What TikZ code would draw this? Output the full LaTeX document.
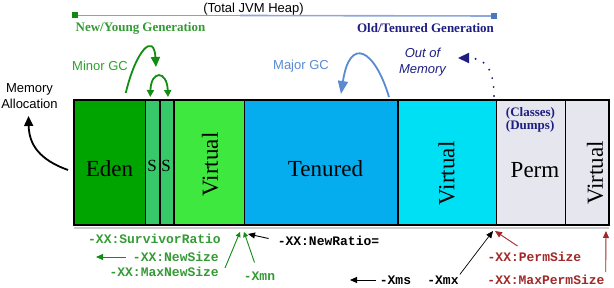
\documentclass[tikz,border=0pt]{standalone}
\usepackage{fontspec}
\setmainfont{Liberation Serif}
\setsansfont{Liberation Sans}
\setmonofont{Liberation Mono}
\usetikzlibrary{arrows.meta,positioning}
\definecolor{EdenFill}{HTML}{00A400}
\definecolor{SurvFill}{HTML}{36C869}
\definecolor{YoungVirt}{HTML}{3FE83F}
\definecolor{TenFill}{HTML}{05ADEE}
\definecolor{OldVirt}{HTML}{00E0F5}
\definecolor{PermFill}{HTML}{E6E6EE}
\definecolor{GcGreen}{HTML}{2FA02F}
\definecolor{OptGreen}{HTML}{349A34}
\definecolor{ArrGreen}{HTML}{128C12}
\definecolor{YoungDark}{HTML}{108A10}
\definecolor{YoungLine}{HTML}{70BE70}
\definecolor{OldLine}{HTML}{8CA8D8}
\definecolor{OldBlue}{HTML}{4A78C0}
\definecolor{MajorBlue}{HTML}{5A8AD0}
\definecolor{Navy}{HTML}{1E1E82}
\definecolor{OptRed}{HTML}{A02828}

\begin{document}
\begin{tikzpicture}[x=1pt,y=-1pt,
          node distance=0pt,
          seg/.style={draw=black,line width=1.6pt,minimum height=125pt,
            inner sep=0pt,outer sep=0pt},
          big/.style={font=\fontsize{23}{26}\selectfont,inner sep=0pt},
          note/.style={font=\sffamily\fontsize{13}{16}\selectfont,inner sep=0pt,align=center},
          gen/.style={font=\bfseries\fontsize{13}{15}\selectfont,inner sep=0pt},
          opt/.style={font=\ttfamily\bfseries\fontsize{13}{15}\selectfont,inner sep=1pt},
          endsq/.style={minimum size=6pt,inner sep=0pt,outer sep=0pt},
          gcflow/.style={-{Triangle[length=10pt,width=9pt]},line width=1.8pt},
          thin/.style={-{Triangle[length=7pt,width=6pt]},line width=0.9pt}]
        \useasboundingbox (0,0) rectangle (614,288);
        % heap span
        \node[endsq,fill=YoungDark] (youngend) at (74.5,15.5) {};
        \node[endsq,fill=OldBlue] (oldend) at (494,16) {};
        \coordinate (heapmid) at (240,15.5);
        \draw[YoungLine,line width=1.6pt] (youngend) -- (heapmid);
        \draw[OldLine,line width=1.6pt] (heapmid) -- (oldend);
        \node[note] (heap) at (253.5,9.5) {(Total JVM Heap)};
        \node[gen,text=OptGreen] (young) at (140.5,28) {New/Young Generation};
        \node[gen,text=Navy] (old) at (425.5,28) {Old/Tenured Generation};
        % heap segments
        \node[seg,fill=EdenFill,minimum width=71.5pt,anchor=north west] (eden) at (74,100) {};
        \node[seg,fill=SurvFill,minimum width=14.5pt,right=of eden] (sone) {};
        \node[seg,fill=SurvFill,minimum width=14pt,right=of sone] (stwo) {};
        \node[seg,fill=YoungVirt,minimum width=70.5pt,right=of stwo] (vyoung) {};
        \node[seg,fill=TenFill,minimum width=153.5pt,right=of vyoung] (tenured) {};
        \node[seg,fill=OldVirt,minimum width=98.5pt,right=of tenured] (vold) {};
        \node[seg,fill=PermFill,minimum width=69pt,right=of vold] (perm) {};
        \node[seg,fill=PermFill,minimum width=43.5pt,right=of perm] (vperm) {};
        \draw[black!20,line width=1.5pt] ([yshift=-3pt]eden.south west) -- ([yshift=-3pt]vperm.south east);
        \draw[line width=2.4pt] (eden.north west) rectangle (vperm.south east);
        \node[big] (edentxt) at (109.5,169) {Eden};
        \node[font=\fontsize{17}{20}\selectfont,inner sep=0pt] (sonetxt) at (152,166) {S};
        \node[font=\fontsize{17}{20}\selectfont,inner sep=0pt] (stwotxt) at (166,166) {S};
        \node[big,rotate=90] (vyoungtxt) at (210,164.5) {Virtual};
        \node[big] (tenuredtxt) at (325.5,169) {Tenured};
        \node[big,rotate=90] (voldtxt) at (446.5,173.5) {Virtual};
        \node[big] (permtxt) at (535,170) {Perm};
        \node[big,rotate=90] (vpermtxt) at (595,173) {Virtual};
        \node[gen,text=Navy,align=left,font=\bfseries\fontsize{13}{13}\selectfont] (permnote) at (530.5,119.5) {(Classes)\\(Dumps)};
        % collections
        \node[note] (alloc) at (29.5,96) {Memory\\Allocation};
        \node[note,text=GcGreen] (minor) at (100,66) {Minor GC};
        \node[note,text=MajorBlue] (major) at (301,66) {Major GC};
        \node[note,text=Navy,font=\sffamily\itshape\fontsize{13}{16}\selectfont] (oom) at (422.5,62) {Out of\\Memory};
        \coordinate (alloctip) at (28.5,116);
        \coordinate (minortip) at (156,67);
        \coordinate (majortip) at (341,94);
        \coordinate (oomtip) at (458,58);
        \draw[gcflow] ([xshift=-6pt,yshift=-70pt]eden.north west) .. controls (40,160) and (29,145) .. (alloctip);
        \draw[gcflow,ArrGreen] ([xshift=16pt,yshift=7pt]eden.north) .. controls (136,50) and (154,32) .. (minortip);
        \draw[ArrGreen,line width=1.8pt,{Triangle[length=7pt,width=7pt]}-{Triangle[length=7pt,width=7pt]}]
          ([xshift=-2.5pt,yshift=3pt]sone.north) .. controls (151,70) and (167,70) .. ([xshift=1pt,yshift=3pt]stwo.north);
        \draw[gcflow,MajorBlue,-{Triangle[length=13pt,width=10pt]}] ([xshift=-9pt,yshift=3pt]vold.north west) .. controls (375,50) and (350,35) .. (majortip);
        \draw[Navy,line width=2.2pt,dash pattern=on 0pt off 9pt,line cap=round,-{Triangle[length=11pt,width=10pt]}]
          ([xshift=-2.5pt,yshift=4pt]vold.north east) .. controls (494,70) and (486,58) .. (oomtip);
        % tuning options
        \node[opt,text=OptGreen] (survratio) at (154.5,239) {-XX:SurvivorRatio};
        \node[opt,text=OptGreen,anchor=east] (newsize) at (220,257) {-XX:NewSize};
        \node[opt,text=OptGreen,anchor=east] (maxnewsize) at (220,272) {-XX:MaxNewSize};
        \node[opt,text=OptGreen] (xmn) at (259.5,276) {-Xmn};
        \node[opt] (newratio) at (328.5,240.5) {-XX:NewRatio=};
        \node[opt] (xms) at (395.5,280) {-Xms};
        \node[opt] (xmx) at (443,280) {-Xmx};
        \node[opt,text=OptRed] (permsize) at (534.5,257) {-XX:PermSize};
        \node[opt,text=OptRed] (maxpermsize) at (546,280) {-XX:MaxPermSize};
        \coordinate (newsizeend) at (96,257);
        \coordinate (newtipa) at (240,232);
        \coordinate (newtipb) at (244,232);
        \coordinate (ratiotip) at (248,234);
        \coordinate (xmsend) at (350,280);
        \coordinate (xmxtip) at (493,231);
        \coordinate (permtip) at (495,231);
        \coordinate (maxpermtip) at (606,231);
        \draw[thin,ArrGreen,shorten <=6pt] (newsize.west) -- (newsizeend);
        \draw[ArrGreen,line width=0.9pt,-{Triangle[length=5pt,width=5pt]}] ([xshift=5pt,yshift=4pt]maxnewsize.east) -- (newtipa);
        \draw[ArrGreen,line width=0.9pt,-{Triangle[length=5pt,width=5pt]}] ([xshift=-5pt,yshift=8pt]xmn.north) -- (newtipb);
        \draw[thin] ([xshift=-8pt,yshift=2pt]newratio.west) -- (ratiotip);
        \draw[thin,shorten <=3pt] (xms.west) -- (xmsend);
        \draw[thin,line width=0.7pt] (xmx.north east) -- (xmxtip);
        \draw[thin,OptRed] ([xshift=-17pt,yshift=5pt]permsize.north) -- (permtip);
        \draw[thin,OptRed] ([yshift=2pt]maxpermsize.north east) -- (maxpermtip);
      \end{tikzpicture}
\end{document}
